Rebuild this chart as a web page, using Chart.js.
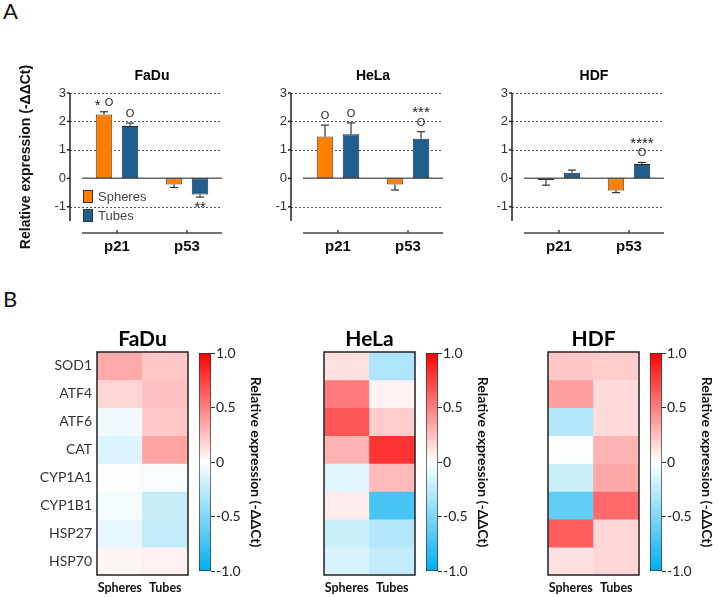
<!DOCTYPE html>
<html>
<head>
<meta charset="utf-8">
<script src="https://cdn.jsdelivr.net/npm/chart.js@4.4.1/dist/chart.umd.min.js"></script>
<style>
  body { margin: 0; background: #fff; width: 718px; height: 597px; position: relative; overflow: hidden; }
  canvas { position: absolute; }
  .letter { position: absolute; font-family: Lato, "Open Sans", sans-serif; font-size: 22px; color: #111; }
</style>
</head>
<body>
<div class="letter" style="left:3px;top:-3px">A</div>
<div class="letter" style="left:3px;top:285px">B</div>

<canvas id="barFadu" width="222" height="210" style="left:0px;top:60px"></canvas>
<canvas id="barHela" width="222" height="210" style="left:221px;top:60px"></canvas>
<canvas id="barHdf" width="222" height="210" style="left:442px;top:60px"></canvas>

<canvas id="heatFadu" width="190" height="277" style="left:0px;top:320px"></canvas>
<canvas id="cbFadu" width="81" height="277" style="left:190px;top:320px"></canvas>
<canvas id="heatHela" width="190" height="277" style="left:227px;top:320px"></canvas>
<canvas id="cbHela" width="81" height="277" style="left:417px;top:320px"></canvas>
<canvas id="heatHdf" width="190" height="277" style="left:451px;top:320px"></canvas>
<canvas id="cbHdf" width="81" height="277" style="left:641px;top:320px"></canvas>

<script>
// ---- panel A data ----
const groups = ["p21", "p53"];
const yTicksA = [-1, 0, 1, 2, 3];

const faduSpheres = [2.24, -0.22];
const faduSpheresErr = [0.1, 0.1];
const faduTubes = [1.84, -0.57];
const faduTubesErr = [0.1, 0.09];

const helaSpheres = [1.47, -0.22];
const helaSpheresErr = [0.4, 0.19];
const helaTubes = [1.55, 1.39];
const helaTubesErr = [0.4, 0.25];

const hdfSpheres = [-0.07, -0.43];
const hdfSpheresErr = [0.17, 0.07];
const hdfTubes = [0.2, 0.5];
const hdfTubesErr = [0.09, 0.06];

// significance marks: [dataset, group, lines from top]
const faduMarks = [[0, 0, ["* O"]], [1, 0, ["O"]], [1, 1, ["**"]]];
const helaMarks = [[0, 0, ["O"]], [1, 0, ["O"]], [1, 1, ["***", "O"]]];
const hdfMarks = [[1, 1, ["****", "O"]]];

// ---- panel B data ----
const genes = ["SOD1", "ATF4", "ATF6", "CAT", "CYP1A1", "CYP1B1", "HSP27", "HSP70"];
const conditions = ["Spheres", "Tubes"];
const cbTicks = [-1, -0.5, 0, 0.5, 1];

const faduHeatSpheres = [0.33, 0.16, -0.06, -0.14, 0.01, -0.04, -0.1, 0.04];
const faduHeatTubes = [0.22, 0.24, 0.22, 0.36, -0.03, -0.22, -0.24, 0.06];
const helaHeatSpheres = [0.12, 0.52, 0.66, 0.3, -0.12, 0.07, -0.2, -0.15];
const helaHeatTubes = [-0.32, 0.05, 0.2, 0.8, 0.27, -0.72, -0.3, -0.24];
const hdfHeatSpheres = [0.22, 0.38, -0.3, -0.01, -0.2, -0.62, 0.64, 0.12];
const hdfHeatTubes = [0.2, 0.14, 0.14, 0.3, 0.34, 0.58, 0.16, 0.16];

const SANS = "'Liberation Sans', Arial, sans-serif";
const LATO = "Lato, 'Open Sans', sans-serif";
const hotRGB = [255, 0, 0];
const coldRGB = [0, 174, 239];

function heatColor(v) {
  const t = Math.min(1, Math.abs(v));
  const end = v >= 0 ? hotRGB : coldRGB;
  const c = end.map((e) => Math.round(255 + (e - 255) * t));
  return `rgb(${c.join(",")})`;
}

function line(ctx, x1, y1, x2, y2) {
  ctx.beginPath();
  ctx.moveTo(x1, y1);
  ctx.lineTo(x2, y2);
  ctx.stroke();
}

// stars are drawn larger and pushed down (the glyph sits high), circles smaller
function drawMark(ctx, text, cx, cy) {
  const parts = text.split(" ").map((t) => ({
    t,
    font: t.includes("*") ? `15px ${SANS}` : `11px ${SANS}`,
    dy: t.includes("*") ? 3 : 0
  }));
  const gap = 4;
  let total = 0;
  for (const p of parts) {
    ctx.font = p.font;
    p.w = ctx.measureText(p.t).width;
    total += p.w;
  }
  total += gap * (parts.length - 1);
  let x = cx - total / 2;
  ctx.textAlign = "left";
  ctx.textBaseline = "middle";
  for (const p of parts) {
    ctx.font = p.font;
    ctx.fillText(p.t, x, cy + p.dy);
    x += p.w + gap;
  }
}

function barChart(id, title, spheres, spheresErr, tubes, tubesErr, marks, withLegend) {
  const errs = [spheresErr, tubesErr];
  const decor = {
    id: "decor",
    beforeDatasetsDraw(chart) {
      const { ctx, chartArea: a, scales: { x, y } } = chart;
      const axisX = a.left - 12;
      ctx.save();
      ctx.strokeStyle = "#555";
      ctx.lineWidth = 1;
      ctx.setLineDash([2, 2]);
      for (const v of yTicksA) {
        if (v === 0) continue;
        const py = Math.round(y.getPixelForValue(v)) + 0.5;
        line(ctx, axisX, py, a.right, py);
      }
      ctx.setLineDash([]);
      ctx.strokeStyle = "#666";
      ctx.lineWidth = 1.5;
      const zy = y.getPixelForValue(0);
      line(ctx, a.left, zy, a.right, zy);
      // y axis
      ctx.strokeStyle = "#222";
      ctx.lineWidth = 1.5;
      line(ctx, axisX, a.top, axisX, a.bottom);
      for (const v of yTicksA) {
        const py = y.getPixelForValue(v);
        line(ctx, axisX - 3, py, axisX, py);
      }
      // detached x axis
      ctx.strokeStyle = "#444";
      const xb = a.bottom + 12;
      line(ctx, a.left, xb, a.right, xb);
      groups.forEach((g, i) => {
        const px = x.getPixelForTick(i);
        line(ctx, px, xb - 3, px, xb);
      });
      // title
      ctx.fillStyle = "#000";
      ctx.font = `bold 14px ${SANS}`;
      ctx.textAlign = "center";
      ctx.textBaseline = "middle";
      ctx.fillText(title, (a.left + a.right) / 2, a.top - 17);
      ctx.restore();
    },
    afterDatasetsDraw(chart) {
      const { ctx, chartArea: a, scales: { y } } = chart;
      ctx.save();
      ctx.strokeStyle = "#333";
      ctx.lineWidth = 1.2;
      const caps = [[], []];
      chart.data.datasets.forEach((ds, di) => {
        chart.getDatasetMeta(di).data.forEach((bar, i) => {
          const v = ds.data[i];
          const e = errs[di][i];
          const end = v >= 0 ? v + e : v - e;
          const py = y.getPixelForValue(end);
          caps[di][i] = { x: bar.x, y: py, up: v >= 0 };
          line(ctx, bar.x, bar.y, bar.x, py);
          line(ctx, bar.x - 4, py, bar.x + 4, py);
        });
      });
      ctx.fillStyle = "#222";
      for (const [di, gi, lines] of marks) {
        const c = caps[di][gi];
        if (c.up) {
          lines.slice().reverse().forEach((t, k) => drawMark(ctx, t, c.x, c.y - 9 - k * 12.5));
        } else {
          lines.forEach((t, k) => drawMark(ctx, t, c.x, c.y + 8 + k * 12.5));
        }
      }
      if (withLegend) {
        ctx.font = `13px ${SANS}`;
        ctx.textAlign = "left";
        ctx.textBaseline = "middle";
        chart.data.datasets.forEach((ds, di) => {
          const top = a.bottom - 31 + di * 19;
          ctx.fillStyle = ds.backgroundColor;
          ctx.fillRect(a.left + 1, top, 10, 13);
          ctx.strokeStyle = "#333";
          ctx.lineWidth = 1;
          ctx.strokeRect(a.left + 1.5, top + 0.5, 9, 12);
          ctx.fillStyle = "#444";
          ctx.fillText(ds.label, a.left + 16, top + 7);
        });
      }
      ctx.restore();
    }
  };

  return new Chart(document.getElementById(id), {
    type: "bar",
    data: {
      labels: groups,
      datasets: [
        { label: "Spheres", data: spheres, backgroundColor: "#ff8000", borderColor: "#3a3a3a", borderWidth: 1, borderSkipped: false, barPercentage: 0.635, categoryPercentage: 0.743 },
        { label: "Tubes", data: tubes, backgroundColor: "#1f5f8f", borderColor: "#2a2a2a", borderWidth: 1, borderSkipped: false, barPercentage: 0.635, categoryPercentage: 0.743 }
      ]
    },
    options: {
      responsive: false,
      animation: false,
      layout: { padding: { top: 33, left: 0, right: 0, bottom: 0 } },
      plugins: { legend: { display: false }, tooltip: { enabled: false } },
      scales: {
        x: {
          grid: { display: false, drawTicks: false },
          border: { display: false },
          ticks: { font: { family: SANS, size: 15, weight: "bold" }, color: "#111", padding: 17 },
          afterFit(s) { s.height = 49; }
        },
        y: {
          min: -1.5,
          max: 3,
          afterBuildTicks(s) { s.ticks = yTicksA.map((v) => ({ value: v })); },
          grid: { display: false, drawTicks: false },
          border: { display: false },
          ticks: { font: { family: SANS, size: 13 }, color: "#333", padding: 16 },
          title: {
            display: withLegend,
            text: "Relative expression (-ΔΔCt)",
            font: { family: SANS, size: 14, weight: "bold" },
            color: "#111",
            padding: { top: 18, bottom: 0 }
          },
          afterFit(s) { s.width = 82; }
        }
      }
    },
    plugins: [decor]
  });
}

function heatmap(id, title, spheresVals, tubesVals, showGenes) {
  const frame = {
    id: "frame",
    afterDraw(chart) {
      const { ctx, chartArea: a } = chart;
      ctx.save();
      ctx.strokeStyle = "#222";
      ctx.lineWidth = 1.5;
      ctx.strokeRect(a.left, a.top, a.right - a.left, a.bottom - a.top);
      ctx.fillStyle = "#000";
      ctx.font = `bold 21px ${LATO}`;
      ctx.textAlign = "center";
      ctx.textBaseline = "middle";
      ctx.fillText(title, (a.left + a.right) / 2, a.top - 13);
      ctx.restore();
    }
  };
  return new Chart(document.getElementById(id), {
    type: "bar",
    data: {
      labels: conditions,
      datasets: genes.map((g, i) => ({
        label: g,
        data: [1, 1],
        backgroundColor: [heatColor(spheresVals[i]), heatColor(tubesVals[i])],
        borderWidth: 0,
        barPercentage: 1,
        categoryPercentage: 1
      }))
    },
    options: {
      responsive: false,
      animation: false,
      layout: { padding: { top: 32, left: 0, right: 2, bottom: 0 } },
      plugins: { legend: { display: false }, tooltip: { enabled: false } },
      scales: {
        x: {
          stacked: true,
          grid: { display: false, drawTicks: false },
          border: { display: false },
          ticks: { font: { family: LATO, size: 12.5, weight: "bold" }, color: "#111", padding: 5, maxRotation: 0, minRotation: 0, autoSkip: false },
          afterFit(s) { s.height = 22; }
        },
        y: {
          stacked: true,
          reverse: true,
          min: 0,
          max: genes.length,
          afterBuildTicks(s) { s.ticks = genes.map((g, i) => ({ value: i + 0.5 })); },
          grid: { display: false, drawTicks: false },
          border: { display: false },
          ticks: {
            display: showGenes,
            font: { family: LATO, size: 14 },
            color: "#333",
            padding: 5,
            callback: (v) => genes[Math.floor(v)]
          },
          afterFit(s) { s.width = 97; }
        }
      }
    },
    plugins: [frame]
  });
}

function colorbar(id) {
  return new Chart(document.getElementById(id), {
    type: "bar",
    data: {
      labels: ["scale"],
      datasets: [{
        data: [[cbTicks[0], cbTicks[cbTicks.length - 1]]],
        backgroundColor(c) {
          const a = c.chart.chartArea;
          if (!a) return "#fff";
          const g = c.chart.ctx.createLinearGradient(0, a.bottom, 0, a.top);
          cbTicks.forEach((v, i) => g.addColorStop(i / (cbTicks.length - 1), heatColor(v)));
          return g;
        },
        borderColor: "#333",
        borderWidth: 1,
        borderSkipped: false,
        barPercentage: 1,
        categoryPercentage: 1
      }]
    },
    options: {
      responsive: false,
      animation: false,
      layout: { padding: { top: 33, left: 9, right: 0, bottom: 26 } },
      plugins: { legend: { display: false }, tooltip: { enabled: false } },
      scales: {
        x: { display: false },
        y: {
          position: "right",
          min: -1,
          max: 1,
          afterBuildTicks(s) { s.ticks = cbTicks.map((v) => ({ value: v })); },
          grid: { display: true, drawOnChartArea: false, drawTicks: true, tickLength: 4, color: "#333" },
          border: { display: false },
          ticks: { font: { family: LATO, size: 14 }, color: "#222", padding: 1, callback: (v) => (v === 0 ? "0" : v.toFixed(1)) },
          title: {
            display: true,
            text: "Relative expression (-ΔΔCt)",
            font: { family: LATO, size: 14, weight: "bold" },
            color: "#111",
            padding: 7
          },
          afterFit(s) { s.width = 60; }
        }
      }
    }
  });
}

barChart("barFadu", "FaDu", faduSpheres, faduSpheresErr, faduTubes, faduTubesErr, faduMarks, true);
barChart("barHela", "HeLa", helaSpheres, helaSpheresErr, helaTubes, helaTubesErr, helaMarks, false);
barChart("barHdf", "HDF", hdfSpheres, hdfSpheresErr, hdfTubes, hdfTubesErr, hdfMarks, false);

heatmap("heatFadu", "FaDu", faduHeatSpheres, faduHeatTubes, true);
heatmap("heatHela", "HeLa", helaHeatSpheres, helaHeatTubes, false);
heatmap("heatHdf", "HDF", hdfHeatSpheres, hdfHeatTubes, false);
colorbar("cbFadu");
colorbar("cbHela");
colorbar("cbHdf");
</script>
</body>
</html>
